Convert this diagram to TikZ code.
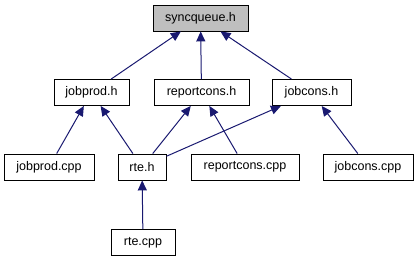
\documentclass[tikz,border=0pt]{standalone}
\usepackage{fontspec}
\setmainfont{Liberation Sans}
\usetikzlibrary{arrows.meta}

\definecolor{edgeblue}{HTML}{191970}
\definecolor{boxgray}{HTML}{BFBFBF}

\tikzset{
    file/.style={draw=black, fill=white, line width=0.9pt, inner xsep=0pt,
        minimum height=26pt, font=\fontsize{12.5}{15}\selectfont},
    inc/.style={draw=edgeblue, line width=1pt, -{Triangle[length=10pt,width=9pt]}},
}

\begin{document}
\begin{tikzpicture}[x=1pt,y=-1pt]
    \useasboundingbox (0,0) rectangle (420,261);

    % header at the top
    \node[file, fill=boxgray, minimum width=95pt](syncqueue)at(200.5,18){syncqueue.h};

    % headers that include it
    \node[file, minimum width=75pt](jobprodh)at(91.5,92.5){jobprod.h};
    \node[file, minimum width=95pt](reportconsh)at(201.5,92.5){reportcons.h};
    \node[file, minimum width=79pt](jobconsh)at(311.5,92.5){jobcons.h};

    % sources and rte.h
    \node[file, minimum width=90pt](jobprodcpp)at(49,167){jobprod.cpp};
    \node[file, minimum width=48pt](rteh)at(142,167){rte.h};
    \node[file, minimum width=108pt](reportconscpp)at(245,167){reportcons.cpp};
    \node[file, minimum width=90pt](jobconscpp)at(368,167){jobcons.cpp};
    \node[file, minimum width=64pt](rtecpp)at(143,242.5){rte.cpp};

    % include edges
    \draw[inc](jobprodh)--(syncqueue);
    \draw[inc](reportconsh)--(syncqueue);
    \draw[inc](jobconsh)--(syncqueue);

    \draw[inc](jobprodcpp)--(jobprodh);
    \draw[inc](rteh)--(jobprodh);
    \draw[inc](rteh)--(reportconsh);
    \draw[inc](rteh)--(jobconsh);
    \draw[inc](reportconscpp)--(reportconsh);
    \draw[inc](jobconscpp)--(jobconsh);

    \draw[inc](rtecpp)--(rteh);
\end{tikzpicture}
\end{document}
